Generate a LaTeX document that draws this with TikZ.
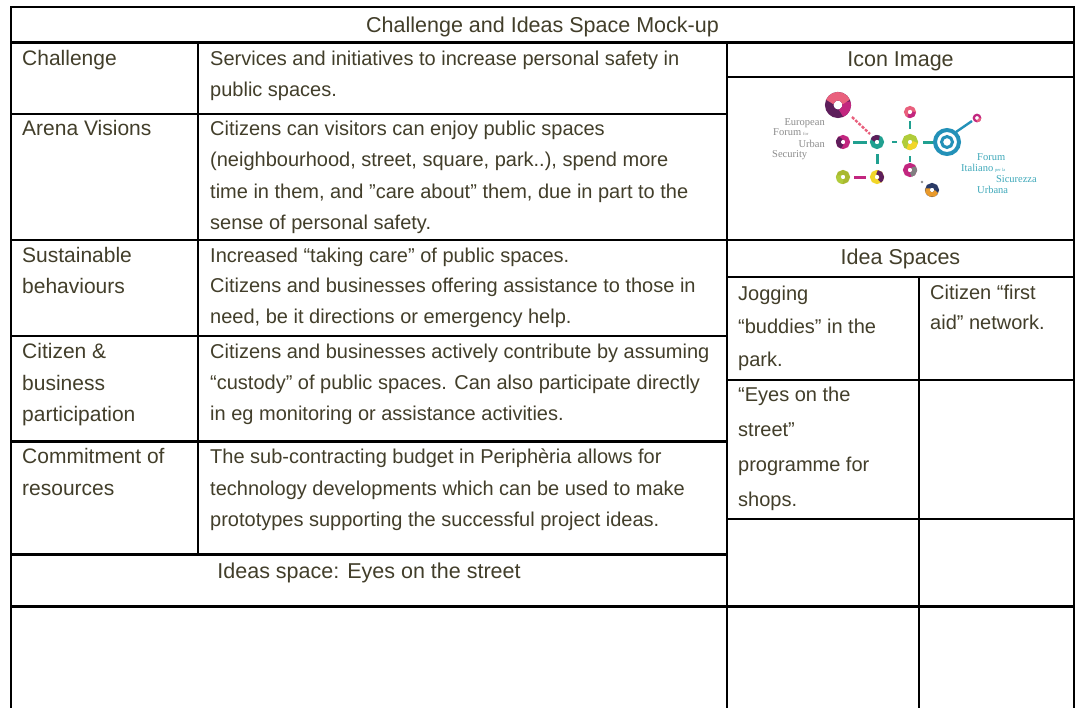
\documentclass[tikz,border=0pt]{standalone}
\usepackage{fontspec}
\setmainfont{Liberation Sans}
\newfontfamily\efusserif{Liberation Serif}
\definecolor{txt}{RGB}{66,62,42}
\definecolor{lpurple}{RGB}{94,30,91}
\definecolor{lmagenta}{RGB}{194,38,127}
\definecolor{lpink}{RGB}{233,96,125}
\definecolor{lteal}{RGB}{32,160,144}
\definecolor{llime}{RGB}{176,204,58}
\definecolor{lyellow}{RGB}{242,214,40}
\definecolor{lblue}{RGB}{35,145,184}
\definecolor{lolive}{RGB}{169,185,47}
\definecolor{lnavy}{RGB}{42,58,102}
\definecolor{lorange}{RGB}{233,154,43}
\definecolor{lgreytxt}{RGB}{140,140,140}
\definecolor{ltealtxt}{RGB}{63,169,186}
\newcommand\efusring[8]{%
  \draw[line width=#4pt,#5] (#1,#2) circle (#3);
  \draw[line width=#4pt,#6] (#1,#2) ++(#7:#3) arc[start angle=#7,end angle=#8,radius=#3];}
\begin{document}
\begin{tikzpicture}[x=1pt,y=-1pt,
  gridline/.style={line width=2.6pt,black},
  lab/.style={anchor=base west,inner sep=0pt,text=txt,font=\fontsize{21}{25}\selectfont},
  dsc/.style={anchor=base west,inner sep=0pt,text=txt,font=\fontsize{20}{24}\selectfont},
  hdr/.style={anchor=base,inner sep=0pt,text=txt,font=\fontsize{21.5}{25}\selectfont},
  lgtxt/.style={inner sep=0pt,text=lgreytxt,font=\efusserif\fontsize{10.5}{12}\selectfont},
  lttxt/.style={inner sep=0pt,text=ltealtxt,font=\efusserif\fontsize{10.5}{12}\selectfont},
  tiny/.style={inner sep=0pt,font=\efusserif\fontsize{4.5}{5}\selectfont}]
\useasboundingbox (0,0) rectangle (1076,707);
\fill[white] (0,0) rectangle (1076,707);
% ---- grid ----
\draw[gridline] (11,712) -- (11,7) -- (1074,7) -- (1074,712);
\draw[gridline] (11,42.7) -- (1074,42.7);
\draw[gridline] (198,42.7) -- (198,554.5);
\draw[gridline] (727,42.7) -- (727,712);
\draw[gridline] (919,277) -- (919,712);
\foreach \yy in {114,336,441.7,554.5} \draw[gridline] (11,\yy) -- (727,\yy);
\foreach \yy in {240,606.7} \draw[gridline] (11,\yy) -- (1074,\yy);
\foreach \yy in {77,277,380,519} \draw[gridline] (727,\yy) -- (1074,\yy);
% ---- headers ----
\node[hdr] (title) at (542.5,32) {Challenge and Ideas Space Mock-up};
\node[hdr] (iconhd) at (900.5,66) {Icon Image};
\node[hdr] (ideahd) at (900.5,264) {Idea Spaces};
\node[hdr] (footer) at (369,578) {Ideas space: Eyes on the street};
% ---- left labels ----
\node[lab] (l1) at (22,65.7) {Challenge};
\node[lab] (l2) at (22,135.7) {Arena Visions};
\node[lab] (l3a) at (22,262) {Sustainable};
\node[lab] (l3b) at (22,293) {behaviours};
\node[lab] (l4a) at (22,358.5) {Citizen \&};
\node[lab] (l4b) at (22,390) {business};
\node[lab] (l4c) at (22,421) {participation};
\node[lab] (l5a) at (22,463.5) {Commitment of};
\node[lab] (l5b) at (22,495.5) {resources};
% ---- descriptions ----
\node[dsc] (d1a) at (210,65.7) {Services and initiatives to increase personal safety in};
\node[dsc] (d1b) at (210,96.7) {public spaces.};
\node[dsc] (d2a) at (210,135.7) {Citizens can visitors can enjoy public spaces};
\node[dsc] (d2b) at (210,166.8) {(neighbourhood, street, square, park..), spend more};
\node[dsc] (d2c) at (210,198) {time in them, and ”care about” them, due in part to the};
\node[dsc] (d2d) at (210,229.2) {sense of personal safety.};
\node[dsc] (d3a) at (210,262.3) {Increased “taking care” of public spaces.};
\node[dsc] (d3b) at (210,292.9) {Citizens and businesses offering assistance to those in};
\node[dsc] (d3c) at (210,323.5) {need, be it directions or emergency help.};
\node[dsc] (d4a) at (210,358.7) {Citizens and businesses actively contribute by assuming};
\node[dsc] (d4b) at (210,389.5) {“custody” of public spaces. Can also participate directly};
\node[dsc] (d4c) at (210,420.3) {in eg monitoring or assistance activities.};
\node[dsc] (d5a) at (210,463.7) {The sub-contracting budget in Periphèria allows for};
\node[dsc] (d5b) at (210,495) {technology developments which can be used to make};
\node[dsc] (d5c) at (210,526.5) {prototypes supporting the successful project ideas.};
% ---- idea spaces ----
\node[dsc] (j1) at (738,300) {Jogging};
\node[dsc] (j2) at (738,333) {“buddies” in the};
\node[dsc] (j3) at (738,366) {park.};
\node[dsc] (f1) at (930,299) {Citizen “first};
\node[dsc] (f2) at (930,329) {aid” network.};
\node[dsc] (e1) at (738,401) {“Eyes on the};
\node[dsc] (e2) at (738,436) {street”};
\node[dsc] (e3) at (738,471) {programme for};
\node[dsc] (e4) at (738,506) {shops.};
% ---- logo ----
\draw[line width=2.4pt,lpink,dash pattern=on 3pt off 1.5pt] (852,117) -- (870,134);
\draw[line width=3pt,lteal] (853,142) -- (867,142);
\draw[line width=2.5pt,lteal] (892,142) -- (897,142);
\draw[line width=3pt,lteal] (923,142) -- (934,142);
\draw[line width=2.4pt,lblue] (956,132) -- (972,121);
\draw[line width=3pt,lteal] (877,154) -- (877,164);
\draw[line width=2pt,lteal] (910,121) -- (910,129);
\draw[line width=2.5pt,lteal] (910,156) -- (910,162);
\draw[line width=3pt,lmagenta] (854,177) -- (866,177);
\fill[lgreytxt] (922,182) circle (1.3);
\efusring{838}{105}{8.75}{8.5}{lpurple}{lmagenta}{-20}{70}
\draw[line width=8.5pt,lpink] (838,105) ++(-160:8.75) arc[start angle=-160,end angle=-20,radius=8.75];
\efusring{843}{142}{4.75}{4.5}{lmagenta}{lpurple}{100}{240}
\efusring{877}{142}{4.75}{4.5}{lteal}{lpurple}{200}{300}
\efusring{910}{142}{5.25}{5.5}{llime}{lyellow}{0}{120}
\draw[line width=4pt,lblue] (947,142) circle (12);
\draw[line width=3pt,lblue] (947,142) circle (5.5);
\efusring{977}{118}{3.2}{2.2}{lmagenta}{lpink}{0}{90}
\efusring{910}{112}{4.25}{3.5}{lpink}{lmagenta}{0}{120}
\efusring{843}{177}{4.75}{4.5}{lolive}{llime}{90}{200}
\efusring{877}{177}{4.75}{4.5}{lyellow}{lpurple}{-90}{60}
\efusring{910}{170}{4.75}{4.5}{lmagenta}{gray}{-40}{80}
\efusring{932}{190}{4.75}{4.5}{lnavy}{lorange}{20}{200}
\node[lgtxt,anchor=base east] (eu1) at (825,125) {European};
\node[lgtxt,anchor=base west] (eu2) at (773,135) {Forum};
\node[tiny,text=lgreytxt,anchor=base west] (eu2b) at (803,135) {for};
\node[lgtxt,anchor=base east] (eu3) at (825,147) {Urban};
\node[lgtxt,anchor=base west] (eu4) at (772,157) {Security};
\node[lttxt,anchor=base west] (it1) at (977,160) {Forum};
\node[lttxt,anchor=base west] (it2) at (961,171) {Italiano};
\node[tiny,text=ltealtxt,anchor=base west] (it2b) at (995,171) {per la};
\node[lttxt,anchor=base east] (it3) at (1037,182) {Sicurezza};
\node[lttxt,anchor=base west] (it4) at (977,193) {Urbana};
\end{tikzpicture}
\end{document}
